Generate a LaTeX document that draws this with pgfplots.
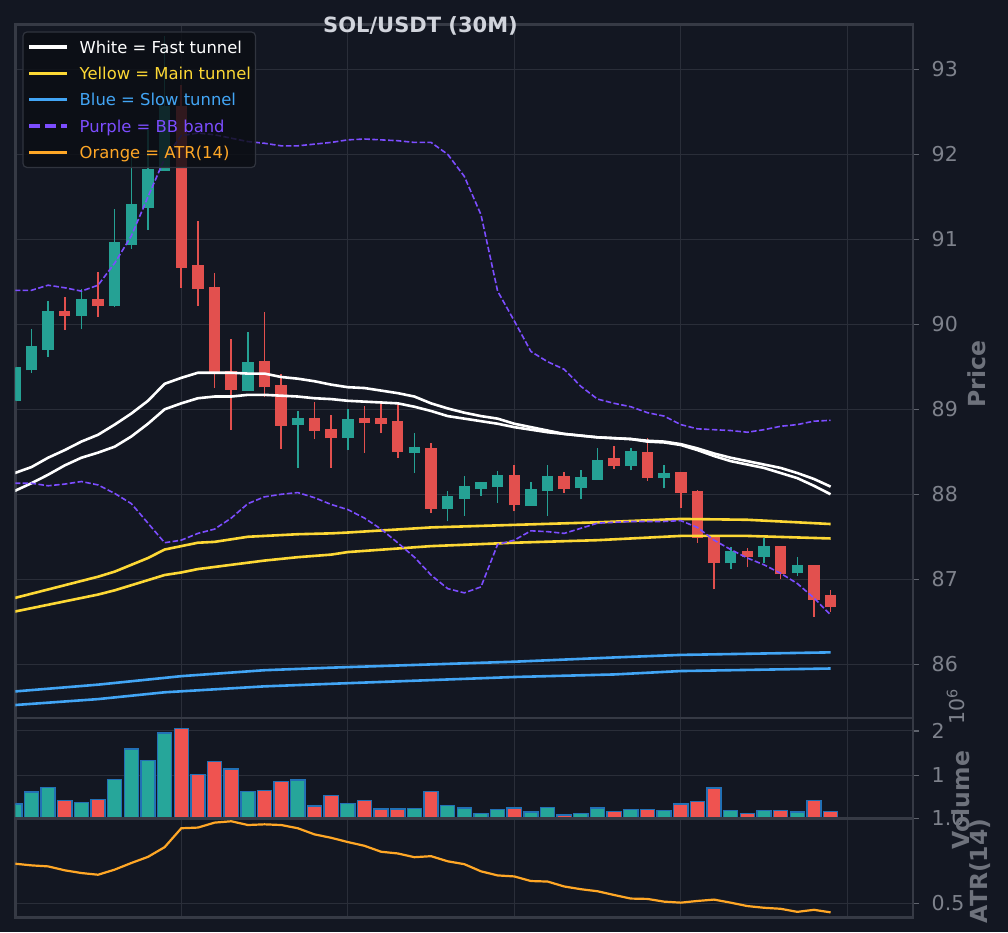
\documentclass[border=0pt]{standalone}
\usepackage{fontspec}
\setmainfont{DejaVu Sans}
\usepackage{pgfplots}
\usepackage{pgfplotstable}
\pgfplotsset{compat=1.18}

\definecolor{bgc}{HTML}{131722}
\definecolor{spinec}{HTML}{363A45}
\definecolor{gridc}{HTML}{2A2E39}
\definecolor{tickc}{HTML}{5F636D}
\definecolor{ticklabc}{HTML}{7E828C}
\definecolor{labc}{HTML}{6E727C}
\definecolor{titlec}{HTML}{D1D4DC}
\definecolor{upc}{HTML}{25A194}
\definecolor{dnc}{HTML}{E2504E}
\definecolor{upv}{HTML}{26A69A}
\definecolor{dnv}{HTML}{EF5350}
\definecolor{edgec}{HTML}{2270B5}
\definecolor{whitec}{HTML}{FFFFFF}
\definecolor{yellowc}{HTML}{FDD835}
\definecolor{bluec}{HTML}{42A5F5}
\definecolor{purplec}{HTML}{7C4DFF}
\definecolor{orangec}{HTML}{FFA726}
\definecolor{legbg}{HTML}{0B0E14}
\definecolor{legbd}{HTML}{30343E}

% candles: index, open, high, low, close
\pgfplotstableread{
i O H L C
0 89.11 89.48 89.11 89.48
1 89.47 89.95 89.43 89.73
2 89.71 90.27 89.62 90.15
4 90.11 90.42 89.94 90.29
6 90.23 91.36 90.20 90.96
7 90.95 92.00 90.89 91.40
8 91.38 92.29 91.11 91.82
9 91.82 93.39 91.82 92.56
14 89.23 89.91 89.23 89.55
17 88.83 88.98 88.31 88.89
20 88.67 89.00 88.52 88.87
24 88.50 88.72 88.25 88.54
26 87.84 88.04 87.68 87.97
27 87.96 88.21 87.75 88.08
28 88.07 88.15 87.98 88.13
29 88.10 88.27 87.90 88.22
31 87.87 88.15 87.87 88.05
32 88.05 88.34 87.75 88.20
34 88.08 88.28 87.94 88.19
35 88.18 88.54 88.18 88.39
37 88.34 88.54 88.28 88.50
39 88.20 88.35 88.07 88.24
43 87.20 87.38 87.12 87.32
45 87.27 87.49 87.19 87.38
47 87.08 87.26 87.04 87.15
}\upcandles

\pgfplotstableread{
i O H L C
3 90.15 90.32 89.93 90.11
5 90.29 90.62 90.09 90.23
10 92.56 92.81 90.43 90.68
11 90.68 91.22 90.22 90.43
12 90.43 90.60 89.25 89.44
13 89.44 89.83 88.76 89.24
15 89.56 90.15 89.14 89.27
16 89.27 89.42 88.53 88.82
18 88.89 89.08 88.65 88.76
19 88.76 88.93 88.31 88.67
21 88.88 89.04 88.49 88.85
22 88.88 89.06 88.72 88.84
23 88.85 89.09 88.43 88.51
25 88.53 88.60 87.78 87.84
30 88.22 88.34 87.80 87.88
33 88.20 88.26 88.02 88.07
36 88.41 88.57 88.30 88.34
38 88.49 88.66 88.16 88.20
40 88.25 88.26 87.84 88.03
41 88.03 88.05 87.43 87.50
42 87.50 87.50 86.88 87.20
44 87.32 87.37 87.14 87.27
46 87.38 87.39 87.00 87.07
48 87.15 87.15 86.56 86.77
49 86.80 86.87 86.62 86.68
}\dncandles

% fast tunnel (white) and Bollinger band (purple)
\pgfplotstableread{
i wu wl bbu bbl
0 88.25 88.04 90.40 88.13
1 88.32 88.13 90.40 88.13
2 88.43 88.23 90.46 88.10
3 88.52 88.34 90.43 88.12
4 88.62 88.43 90.39 88.15
5 88.70 88.49 90.46 88.11
6 88.82 88.56 90.72 88.01
7 88.95 88.68 91.04 87.89
8 89.10 88.83 91.50 87.66
9 89.30 89.00 91.95 87.43
10 89.37 89.07 92.22 87.46
11 89.43 89.13 92.25 87.54
12 89.43 89.15 92.23 87.59
13 89.43 89.15 92.19 87.72
14 89.42 89.17 92.15 87.89
15 89.42 89.17 92.13 87.97
16 89.38 89.16 92.10 88.00
17 89.36 89.15 92.10 88.02
18 89.33 89.13 92.12 87.96
19 89.29 89.12 92.14 87.88
20 89.26 89.10 92.17 87.82
21 89.25 89.09 92.18 87.72
22 89.22 89.08 92.17 87.59
23 89.19 89.07 92.16 87.43
24 89.15 89.03 92.14 87.26
25 89.07 88.98 92.14 87.05
26 89.01 88.92 92.00 86.89
27 88.96 88.89 91.74 86.84
28 88.92 88.86 91.29 86.91
29 88.89 88.83 90.39 87.41
30 88.83 88.79 90.04 87.46
31 88.79 88.76 89.68 87.57
32 88.75 88.73 89.56 87.56
33 88.71 88.71 89.47 87.54
34 88.69 88.69 89.27 87.60
35 88.67 88.67 89.12 87.66
36 88.66 88.66 89.07 87.67
37 88.65 88.65 89.03 87.68
38 88.63 88.62 88.96 87.68
39 88.62 88.61 88.92 87.68
40 88.59 88.58 88.82 87.69
41 88.54 88.52 88.77 87.61
42 88.48 88.45 88.76 87.46
43 88.43 88.39 88.75 87.35
44 88.39 88.35 88.73 87.25
45 88.35 88.31 88.76 87.17
46 88.31 88.25 88.80 87.07
47 88.25 88.19 88.82 86.95
48 88.18 88.10 88.86 86.78
49 88.09 88.00 88.87 86.58
}\fastbb

\pgfplotstableread{
i y
0 86.78
1 86.83
2 86.88
3 86.93
4 86.98
5 87.03
6 87.09
7 87.17
8 87.25
9 87.35
10 87.39
11 87.43
12 87.44
13 87.47
14 87.50
15 87.51
16 87.52
17 87.53
19 87.54
20 87.55
25 87.61
30 87.64
35 87.67
40 87.71
44 87.70
49 87.65
}\yellowup

\pgfplotstableread{
i y
0 86.62
2 86.70
5 86.82
6 86.87
7 86.93
8 86.99
9 87.05
10 87.08
11 87.12
13 87.17
15 87.22
17 87.26
19 87.29
20 87.32
25 87.39
30 87.43
35 87.46
40 87.51
44 87.51
49 87.48
}\yellowlo

\pgfplotstableread{
i y
0 85.68
5 85.76
9 85.84
10 85.86
15 85.93
19 85.96
30 86.03
36 86.08
40 86.11
49 86.14
}\blueup

\pgfplotstableread{
i y
0 85.52
5 85.59
9 85.67
15 85.74
19 85.77
30 85.85
36 85.88
40 85.92
49 85.95
}\bluelo

% volume (x 10^6)
\pgfplotstableread{
i v
0 0.35
1 0.62
2 0.73
4 0.39
6 0.91
7 1.59
8 1.34
9 1.95
14 0.63
17 0.89
20 0.37
24 0.25
26 0.32
27 0.26
28 0.14
29 0.23
31 0.17
32 0.28
34 0.14
35 0.26
37 0.23
39 0.20
43 0.20
45 0.20
47 0.17
}\volup

\pgfplotstableread{
i v
3 0.43
5 0.46
10 2.05
11 1.02
12 1.31
13 1.14
15 0.66
16 0.86
18 0.31
19 0.55
21 0.43
22 0.24
23 0.24
25 0.63
30 0.26
33 0.10
36 0.18
38 0.23
40 0.35
41 0.41
42 0.71
44 0.14
46 0.20
48 0.43
49 0.18
}\voldn

% ATR(14)
\pgfplotstableread{
i a
0 0.733
1 0.723
2 0.717
3 0.694
4 0.678
5 0.668
6 0.698
7 0.737
8 0.773
9 0.830
10 0.941
11 0.945
12 0.974
13 0.982
14 0.960
15 0.964
16 0.960
17 0.941
18 0.905
19 0.885
20 0.860
21 0.838
22 0.803
23 0.793
24 0.771
25 0.777
26 0.747
27 0.730
28 0.688
29 0.664
30 0.658
31 0.631
32 0.628
33 0.599
34 0.583
35 0.571
36 0.549
37 0.528
38 0.526
39 0.510
40 0.504
41 0.514
42 0.522
43 0.504
44 0.484
45 0.474
46 0.468
47 0.450
48 0.462
49 0.447
}\atr

\pgfplotsset{
  panel/.style={
    scale only axis, width=897.7pt, anchor=south west,
    xmin=0.03, xmax=53.95,
    axis background/.style={fill=bgc},
    axis line style={draw=spinec, line width=2.6pt},
    grid=major, major grid style={draw=gridc, line width=1pt},
    xtick={10,20,30,40,50}, xticklabels={}, xtick style={draw=none},
    ytick pos=right, yticklabel pos=right, tick align=outside,
    ytick style={draw=tickc, line width=1.3pt}, major tick length=5.5pt,
    tick label style={font=\fontsize{20.5}{24}\selectfont, text=ticklabc},
    yticklabel style={anchor=west, inner sep=0pt, xshift=13pt},
    /pgf/number format/assume math mode=true,
  },
  wick/.style={forget plot, draw=none, mark=none, color=#1,
    error bars/.cd, y dir=plus, y explicit, error mark=none,
    error bar style={line width=1.6pt, draw=#1}},
  body/.style={forget plot, draw=none, mark=none, color=#1,
    error bars/.cd, y dir=plus, y explicit, error mark=none,
    error bar style={line width=11.5pt, draw=#1}},
}

\begin{document}
\begin{tikzpicture}
\useasboundingbox (0,0) rectangle (1008pt,932pt);
\fill[bgc] (0,0) rectangle (1008pt,932pt);

% ---------------- price panel ----------------
\begin{axis}[panel, at={(15.3pt,214.2pt)}, height=693.5pt,
  ymin=85.37, ymax=93.53, ytick={86,87,88,89,90,91,92,93},
  legend image code/.code={\draw[#1] (0pt,0pt) -- (38pt,0pt);},
  legend cell align=left,
  legend style={at={(0,1)}, anchor=north west, xshift=7.1pt, yshift=-7.1pt,
    fill=legbg, fill opacity=0.82, text opacity=1, draw=legbd, draw opacity=1,
    line width=1.2pt, rounded corners=4pt,
    font=\fontsize{16.4}{19.7}\selectfont,
    inner xsep=4.5pt, inner ysep=2pt, row sep=0pt, column sep=10.7pt,
    nodes={inner sep=0pt, text height=19.15pt, text depth=7.15pt}},
]
% wicks
\addplot[wick=upc] table[x=i, y=L, y error expr=\thisrow{H}-\thisrow{L}] {\upcandles};
\addplot[wick=dnc] table[x=i, y=L, y error expr=\thisrow{H}-\thisrow{L}] {\dncandles};
% bodies
\addplot[body=upc] table[x=i, y expr=\thisrow{O}-0.012, y error expr=\thisrow{C}-\thisrow{O}+0.024] {\upcandles};
\addplot[body=dnc] table[x=i, y expr=\thisrow{C}-0.012, y error expr=\thisrow{O}-\thisrow{C}+0.024] {\dncandles};
% tunnels
\addplot[forget plot, mark=none, draw=bluec, line width=2.6pt] table[x=i, y=y] {\blueup};
\addplot[forget plot, mark=none, draw=bluec, line width=2.6pt] table[x=i, y=y] {\bluelo};
\addplot[forget plot, mark=none, draw=yellowc, line width=2.6pt] table[x=i, y=y] {\yellowup};
\addplot[forget plot, mark=none, draw=yellowc, line width=2.6pt] table[x=i, y=y] {\yellowlo};
\addplot[forget plot, mark=none, draw=whitec, line width=2.6pt] table[x=i, y=wu] {\fastbb};
\addplot[forget plot, mark=none, draw=whitec, line width=2.6pt] table[x=i, y=wl] {\fastbb};
\addplot[forget plot, mark=none, draw=purplec, line width=1.6pt, dash pattern=on 5.5pt off 2.4pt] table[x=i, y=bbu] {\fastbb};
\addplot[forget plot, mark=none, draw=purplec, line width=1.6pt, dash pattern=on 5.5pt off 2.4pt] table[x=i, y=bbl] {\fastbb};
% legend
\addlegendimage{draw=whitec, line width=3.5pt}
\addlegendentry{\textcolor{whitec}{White = Fast tunnel}}
\addlegendimage{draw=yellowc, line width=3.5pt}
\addlegendentry{\textcolor{yellowc}{Yellow = Main tunnel}}
\addlegendimage{draw=bluec, line width=3.5pt}
\addlegendentry{\textcolor{bluec}{Blue = Slow tunnel}}
\addlegendimage{draw=purplec, line width=3.5pt, dash pattern=on 11pt off 5pt}
\addlegendentry{\textcolor{purplec}{Purple = BB band}}
\addlegendimage{draw=orangec, line width=3.5pt}
\addlegendentry{\textcolor{orangec}{Orange = ATR(14)}}
\end{axis}

% ---------------- volume panel ----------------
\begin{axis}[panel, at={(15.3pt,113.8pt)}, height=100.4pt,
  ymin=0.032, ymax=2.297, ytick={1,2}]
\addplot[ybar, bar width=0.85, bar shift=0pt, fill=upv, draw=edgec, line width=1.4pt] table[x=i, y=v] {\volup};
\addplot[ybar, bar width=0.85, bar shift=0pt, fill=dnv, draw=edgec, line width=1.4pt] table[x=i, y=v] {\voldn};
\end{axis}

% ---------------- ATR panel ----------------
\begin{axis}[panel, at={(15.3pt,14.7pt)}, height=99.1pt,
  ymin=0.418, ymax=1.0, ytick={0.5,1.0}, yticklabels={0.5,1.0}]
\addplot[mark=none, draw=orangec, line width=2.2pt] table[x=i, y=a] {\atr};
\end{axis}

% ---------------- texts ----------------
\node[anchor=base, font=\bfseries\fontsize{21}{26}\selectfont, text=titlec] at (420.5pt,899.7pt) {SOL/USDT (30M)};
\node[rotate=90, font=\bfseries\fontsize{23.5}{28}\selectfont, text=labc] at (976.5pt,558pt) {Price};
\node[rotate=90, font=\fontsize{20.5}{24}\selectfont, text=ticklabc] at (956pt,225pt) {10\textsuperscript{6}};
\node[rotate=90, font=\bfseries\fontsize{23.5}{28}\selectfont, text=labc] at (961pt,132pt) {Volume};
\node[rotate=90, font=\bfseries\fontsize{23.5}{28}\selectfont, text=labc] at (980pt,61pt) {ATR(14)};
\end{tikzpicture}
\end{document}
